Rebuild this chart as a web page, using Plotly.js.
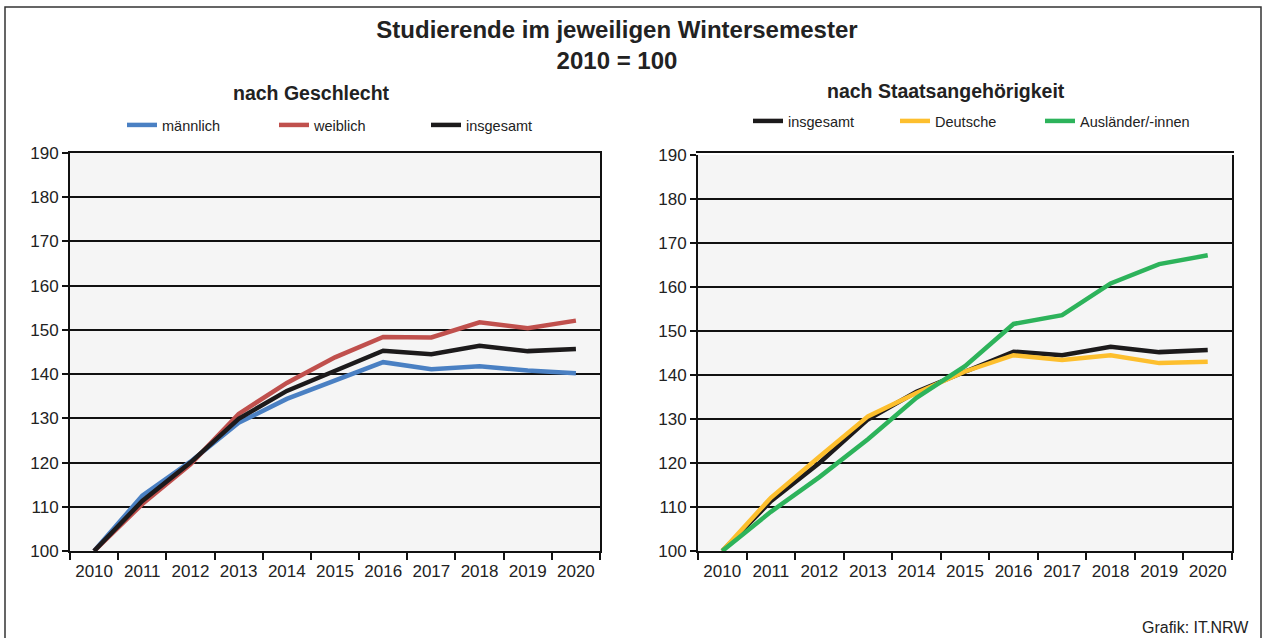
<!DOCTYPE html>
<html>
<head>
<meta charset="utf-8">
<script src="https://cdn.plot.ly/plotly-3.0.1.min.js"></script>
<style>
html,body{margin:0;padding:0;background:#fff;overflow:hidden;}
#chart{width:1264px;height:638px;}
</style>
</head>
<body>
<div id="chart"></div>
<script>
// ---- data ----
const years = ['2010','2011','2012','2013','2014','2015','2016','2017','2018','2019','2020'];
const maennlich = [100, 112.5, 120.2, 129.0, 134.4, 138.5, 142.7, 141.1, 141.8, 140.8, 140.2];
const weiblich  = [100, 110.6, 119.6, 131.0, 138.0, 143.8, 148.4, 148.3, 151.7, 150.4, 152.1];
const insgesamt = [100, 111.3, 120.0, 129.9, 136.2, 140.8, 145.3, 144.5, 146.4, 145.2, 145.7];
const deutsche  = [100, 112.1, 121.4, 130.6, 135.9, 140.8, 144.5, 143.4, 144.5, 142.7, 143.0];
const auslaender= [100, 108.9, 116.8, 125.4, 134.8, 142.0, 151.6, 153.6, 160.8, 165.2, 167.2];
const yTicks = [100,110,120,130,140,150,160,170,180,190];

const W = 1264, H = 638;
const px = v => v / W;
const py = v => (H - v) / H;
const FONT = 'Liberation Sans, Arial, sans-serif';

const C_BLUE = '#4a80c3', C_RED = '#c0504d', C_BLACK = '#1c1a1b', C_YEL = '#fdbf2e', C_GRN = '#2db35b';

function tr(y, name, color, xa, ya, leg, w) {
  return {x: years, y: y, name: name, type: 'scatter', mode: 'lines',
    line: {color: color, width: w || 4.5}, xaxis: xa, yaxis: ya, legend: leg, hoverinfo: 'x+y+name'};
}

const data = [
  tr(maennlich, 'männlich', C_BLUE, 'x', 'y', 'legend'),
  tr(weiblich, 'weiblich', C_RED, 'x', 'y', 'legend'),
  tr(insgesamt, 'insgesamt', C_BLACK, 'x', 'y', 'legend'),
  tr(insgesamt, 'insgesamt', C_BLACK, 'x2', 'y2', 'legend2'),
  tr(deutsche, 'Deutsche', C_YEL, 'x2', 'y2', 'legend2'),
  tr(auslaender, 'Ausländer/-innen', C_GRN, 'x2', 'y2', 'legend3')
];

function xax(d0, d1) {
  return {domain: [px(d0), px(d1)], type: 'category', range: [-0.5, 10.5],
    tickson: 'boundaries', ticks: 'outside', ticklen: 7, tickwidth: 1.5, tickcolor: '#111',
    showline: true, linecolor: '#111', linewidth: 2, mirror: true, showgrid: false, zeroline: false,
    ticklabelstandoff: 4,
    tickfont: {family: FONT, size: 17, color: '#222'}, fixedrange: true};
}
function yax(top, bot, anchor) {
  return {domain: [py(bot), py(top)], range: [100, 190], tickvals: yTicks, anchor: anchor,
    ticks: 'outside', ticklen: 6, tickwidth: 1.5, tickcolor: '#111',
    showline: true, linecolor: '#111', linewidth: 2, mirror: true,
    showgrid: true, gridcolor: '#111', gridwidth: 1.5, zeroline: false,
    tickfont: {family: FONT, size: 17, color: '#222'}, fixedrange: true};
}
function leg(x, y, ew) {
  return {orientation: 'h', x: px(x), xanchor: 'left', y: py(y), yanchor: 'middle',
    entrywidth: ew, entrywidthmode: 'pixels', bgcolor: 'rgba(0,0,0,0)',
    font: {family: FONT, size: 14.5, color: '#222'}, traceorder: 'normal'};
}

const layout = {
  width: W, height: H,
  margin: {l: 0, r: 0, t: 0, b: 0, autoexpand: false},
  paper_bgcolor: '#ffffff', plot_bgcolor: '#f5f5f5',
  font: {family: FONT, color: '#222'},
  title: {text: '<b>Studierende im jeweiligen Wintersemester</b><br><b>2010 = 100</b>',
    font: {family: FONT, size: 24, color: '#222'}, x: px(617), xanchor: 'center',
    xref: 'paper', yref: 'container', y: 1 - 38 / H, yanchor: 'top', automargin: false},
  xaxis: xax(70, 600),
  yaxis: yax(153, 551, 'x'),
  xaxis2: xax(698, 1232),
  yaxis2: yax(155, 551, 'x2'),
  showlegend: true,
  legend: leg(122, 125, 107),
  legend2: leg(748, 121, 102),
  legend3: leg(1040, 121, 130),
  annotations: [
    {text: '<b>nach Geschlecht</b>', x: px(311), y: py(93), xref: 'paper', yref: 'paper',
      showarrow: false, xanchor: 'center', yanchor: 'middle', font: {family: FONT, size: 19.5, color: '#222'}},
    {text: '<b>nach Staatsangehörigkeit</b>', x: px(946), y: py(91), xref: 'paper', yref: 'paper',
      showarrow: false, xanchor: 'center', yanchor: 'middle', font: {family: FONT, size: 19.5, color: '#222'}},
    {text: 'Grafik: IT.NRW', x: px(1251), y: py(627), xref: 'paper', yref: 'paper',
      showarrow: false, xanchor: 'right', yanchor: 'middle', font: {family: FONT, size: 16, color: '#222'}}
  ],
  shapes: [
    {type: 'rect', xref: 'paper', yref: 'paper', x0: px(5), x1: px(1261), y0: py(660), y1: py(7),
      line: {color: '#333', width: 1.5}, fillcolor: 'rgba(0,0,0,0)', layer: 'below'}
  ]
};

Plotly.newPlot('chart', data, layout, {displayModeBar: false});
</script>
</body>
</html>
